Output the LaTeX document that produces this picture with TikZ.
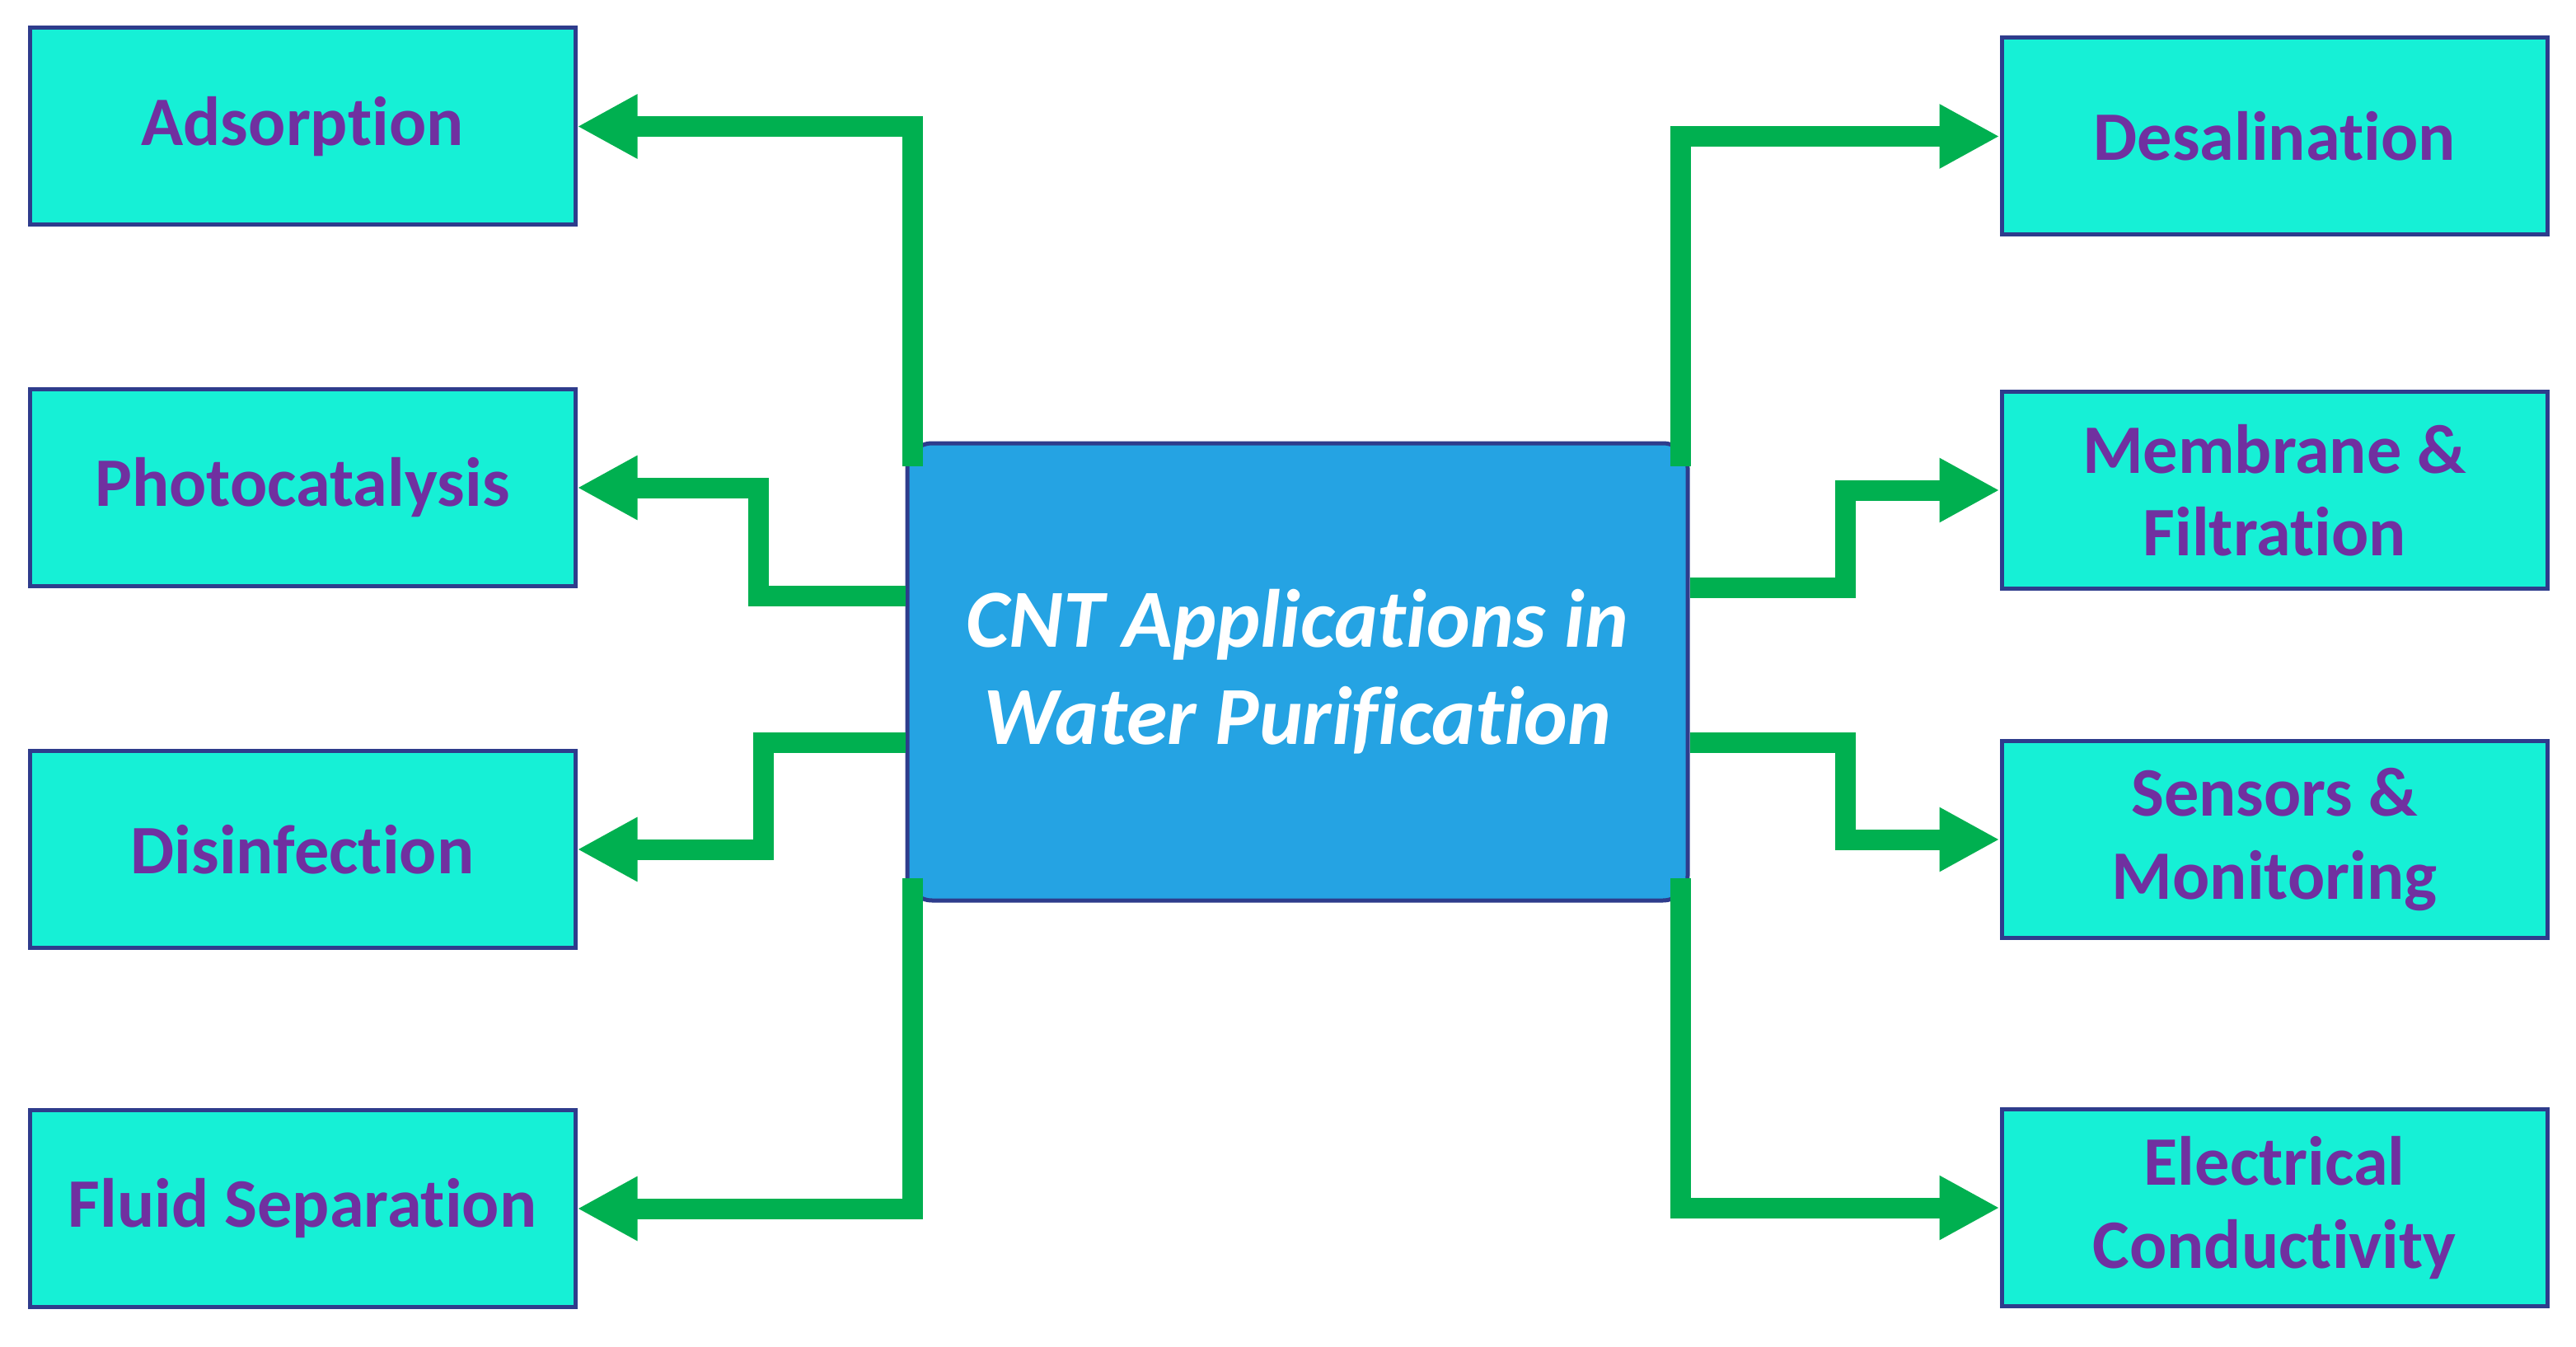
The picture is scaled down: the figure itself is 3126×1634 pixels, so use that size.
\documentclass[tikz,border=0pt]{standalone}
\usepackage{fontspec}
\setmainfont{Carlito}[RawFeature={-liga}]
\usetikzlibrary{arrows.meta}

\definecolor{boxfill}{HTML}{16F0D6}
\definecolor{boxline}{HTML}{2E3C8C}
\definecolor{labeltxt}{HTML}{7030A0}
\definecolor{hubfill}{HTML}{25A3E3}
\definecolor{flowgreen}{HTML}{00B050}

\begin{document}
\begin{tikzpicture}[x=0.1mm, y=0.1mm,
  appbox/.style={rectangle, draw=boxline, line width=0.5mm, fill=boxfill,
    minimum width=66.2mm, minimum height=23.9mm, inner sep=0pt, align=center,
    text=labeltxt, font=\fontsize{24}{28.5}\selectfont\bfseries},
  hub/.style={rectangle, rounded corners=3mm, draw=boxline, line width=0.5mm, fill=hubfill,
    minimum width=94.7mm, minimum height=55.5mm, inner sep=0pt, align=center,
    text=white, font=\fontsize{28.5}{33.5}\selectfont\bfseries\itshape},
  flow/.style={draw=flowgreen, line width=2.5mm, -{Triangle[length=7.3mm, width=7.3mm]}}
]
  \fill[white] (0,0) rectangle (3126,1634);
  % centre
  \node[hub] (cnt) at (1574.5,818.5) {CNT Applications in\\Water Purification};
  % left column
  \node[appbox] (ads) at (367,1480.5) {Adsorption};
  \node[appbox] (pho) at (367,1042)   {Photocatalysis};
  \node[appbox] (dis) at (367,603)    {Disinfection};
  \node[appbox] (flu) at (367,167)    {Fluid Separation};
  % right column
  \node[appbox] (des) at (2760,1468.5) {Desalination};
  \node[appbox] (mem) at (2760,1039)   {Membrane \&\\Filtration};
  \node[appbox] (sen) at (2760,615)    {Sensors \&\\Monitoring};
  \node[appbox] (ele) at (2760,168)    {Electrical\\Conductivity};
  % connectors
  \draw[flow] ([xshift=0.9mm, yshift=-3mm]cnt.north west) |- (ads.east);
  \draw[flow] ([yshift=9.2mm]cnt.west) -- ++(-178,0) |- (pho.east);
  \draw[flow] ([yshift=-8.6mm]cnt.west) -- ++(-172,0) |- (dis.east);
  \draw[flow] ([xshift=0.9mm, yshift=3mm]cnt.south west) |- (flu.east);
  \draw[flow] ([xshift=-1.1mm, yshift=-3mm]cnt.north east) |- (des.west);
  \draw[flow] ([yshift=10.2mm]cnt.east) -- ++(189,0) |- (mem.west);
  \draw[flow] ([yshift=-8.6mm]cnt.east) -- ++(189,0) |- (sen.west);
  \draw[flow] ([xshift=-1.1mm, yshift=3mm]cnt.south east) |- (ele.west);
\end{tikzpicture}
\end{document}
